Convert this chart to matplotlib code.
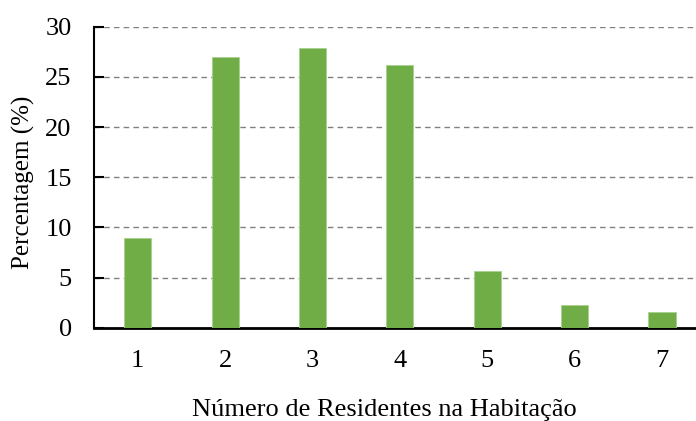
import matplotlib.pyplot as plt

residentes = [1, 2, 3, 4, 5, 6, 7]
percentagem = [8.9, 27.0, 27.9, 26.2, 5.7, 2.3, 1.6]

plt.rcParams['font.family'] = ['Liberation Serif', 'DejaVu Serif']

fig = plt.figure(figsize=(6.96, 4.21), dpi=100)
ax = fig.add_axes([0.135, 0.2216, 0.879, 0.715])

ax.bar(residentes, percentagem, width=0.31, color='#70AD47', edgecolor='#A9D18E', linewidth=0.6, zorder=3)

ax.set_xlim(0.5, 7.5)
ax.set_ylim(0, 30)
ax.set_yticks(range(0, 31, 5))
ax.set_xticks(residentes)
ax.grid(axis='y', linestyle=(0, (4, 3)), color='#808080', linewidth=1.0, zorder=0)

for s in ['top', 'right']:
    ax.spines[s].set_visible(False)
ax.spines['left'].set_linewidth(1.5)
ax.spines['bottom'].set_linewidth(2)
ax.tick_params(axis='y', direction='in', length=7, width=1.5, labelsize=19, pad=16)
ax.tick_params(axis='x', length=0, labelsize=19, pad=16)

ax.set_xlabel('Número de Residentes na Habitação', fontsize=19)
ax.set_ylabel('Percentagem (%)', fontsize=18)
ax.xaxis.set_label_coords(0.474, -0.273)
ax.yaxis.set_label_coords(-0.116, 0.484)
ax.xaxis.label.set_va('center')
ax.yaxis.label.set_va('center')

fig.savefig('out.png', dpi=100)
